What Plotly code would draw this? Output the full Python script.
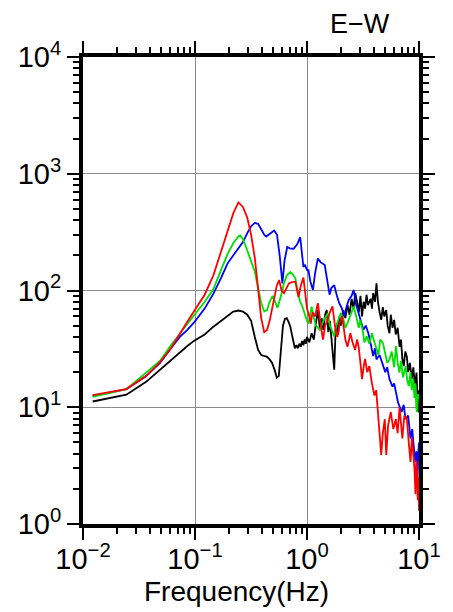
import plotly.graph_objects as go

# ---- data (frequency in Hz, amplitude) ----
f_black = [0.0122, 0.0244, 0.0366, 0.0488, 0.061, 0.0732, 0.0854, 0.0977, 0.122, 0.146,
           0.171, 0.195, 0.22, 0.244, 0.268, 0.293, 0.317, 0.342, 0.366, 0.39,
           0.415, 0.44, 0.464, 0.488, 0.513, 0.537, 0.56, 0.586, 0.61, 0.635,
           0.66, 0.684, 0.71, 0.733, 0.757, 0.78, 0.806, 0.83, 0.854, 0.88,
           0.903, 0.928, 0.952, 0.977,
           1.0, 1.05, 1.1, 1.15, 1.2, 1.25, 1.3, 1.35, 1.4, 1.45, 1.5, 1.55, 1.6, 1.65,
           1.7, 1.75, 1.8, 1.85, 1.9, 1.95, 2.0, 2.1, 2.2, 2.3, 2.4, 2.5, 2.6, 2.7,
           2.8, 2.9, 3.0, 3.1, 3.2, 3.3, 3.4, 3.5, 3.7, 3.8, 3.9, 4.05, 4.17, 4.3,
           4.45, 4.6, 4.75, 4.9, 5.1, 5.25, 5.45, 5.6, 5.8, 6.0, 6.2, 6.45, 6.7, 6.9,
           7.1, 7.3, 7.55, 7.8, 8.0, 8.3, 8.6, 8.9, 9.2, 9.5, 9.7, 9.85, 10.0]
a_black = [11.2, 12.8, 16.5, 21, 25.7, 30, 33.5, 37, 42, 49,
           55, 61, 66, 67.4, 66, 62, 55, 40, 31, 28,
           27.5, 27, 25.7, 24, 21, 18, 18.5, 30, 50, 57,
           58, 54, 49, 42, 36, 32, 34, 32, 35, 33,
           37, 34, 38, 35,
           40, 36, 43, 38, 52, 68, 48, 58, 46, 62, 68, 44, 55, 40,
           30, 21, 45, 52, 42, 60, 50, 68, 58, 75, 62, 85, 70, 95,
           80, 65, 90, 60, 80, 70, 92, 75, 85, 70, 95, 80, 115, 80,
           65, 56, 72, 60, 68, 50, 43, 62, 48, 56, 42, 48, 33, 38,
           26, 22.5, 30, 27, 20, 24, 17.4, 22, 15, 19.8, 12, 14, 9]

f_blue = [0.0122, 0.0244, 0.0366, 0.0488, 0.061, 0.0732, 0.0854, 0.0977, 0.122, 0.146,
          0.171, 0.195, 0.22, 0.244, 0.268, 0.293, 0.317, 0.341, 0.366, 0.39,
          0.415, 0.432, 0.464, 0.509, 0.54, 0.57, 0.603, 0.63, 0.666, 0.7,
          0.76, 0.82, 0.869, 0.9, 0.929, 0.96,
          1.0, 1.03, 1.07, 1.13, 1.18, 1.25, 1.32, 1.44, 1.5, 1.59, 1.65, 1.75, 1.85,
          1.94, 2.05, 2.14, 2.25, 2.36, 2.5, 2.61, 2.75, 2.89, 3.0, 3.19, 3.35, 3.53,
          3.7, 3.9, 4.05, 4.17, 4.45, 4.76, 5.0, 5.2, 5.45, 5.8, 6.0, 6.23, 6.5, 7.0,
          7.3, 7.6, 8.0, 8.4, 8.7, 9.0, 9.3, 9.5, 9.7, 9.85, 10.0]
a_blue = [12.5, 14.3, 18.5, 24, 32, 40, 46, 53, 70, 94,
          128, 170, 200, 228, 260, 310, 355, 379, 372, 335,
          300, 290, 305, 327, 300, 200, 115, 180, 236, 230,
          228, 250, 287, 220, 159, 165,
          150, 149, 120, 101, 140, 188, 175, 165, 130, 92, 105, 111, 90,
          77.8, 70, 60, 72, 83, 90, 101, 75, 64, 55, 46, 50, 43,
          35, 27.4, 32, 25.7, 28, 22.5, 20, 22, 17.4, 15, 16, 13.4, 11, 9.1,
          10.5, 7.9, 8.5, 5.4, 6.5, 4.5, 3.4, 4.2, 2.3, 4, 5]

f_green = [0.0122, 0.0244, 0.0366, 0.0488, 0.061, 0.0732, 0.0854, 0.0977, 0.122, 0.146,
           0.171, 0.195, 0.22, 0.244, 0.253, 0.268, 0.293, 0.317, 0.342, 0.366,
           0.39, 0.415, 0.44, 0.464, 0.493, 0.52, 0.546, 0.586, 0.623, 0.66,
           0.711, 0.757, 0.787, 0.83, 0.87, 0.9, 0.93, 0.962,
           1.0, 1.03, 1.07, 1.1, 1.15, 1.2, 1.3, 1.4, 1.53, 1.6, 1.68, 1.75, 1.85,
           2.0, 2.1, 2.2, 2.3, 2.45, 2.61, 2.75, 2.9, 2.99, 3.15, 3.25, 3.41, 3.6,
           3.8, 4.0, 4.17, 4.35, 4.5, 4.76, 4.95, 5.2, 5.45, 5.7, 6.0, 6.23, 6.45,
           6.7, 6.9, 7.2, 7.6, 7.85, 8.1, 8.4, 8.6, 8.9, 9.1, 9.3, 9.45, 9.6, 9.8, 10.0]
a_green = [12.3, 14.3, 19.8, 25, 34, 43, 52, 61, 80, 103,
           150, 205, 255, 290, 296, 275, 220, 180, 145, 105,
           78, 66, 68, 80, 90, 80, 71, 90, 115, 135,
           144, 135, 127, 95, 80, 75, 68, 60,
           55, 52, 65, 72.8, 58, 50, 46, 55, 64, 50, 45, 40.5, 52,
           64, 58, 48, 52.6, 62, 72.8, 60, 48, 56, 45, 36, 40.5, 35,
           43, 36, 31.3, 28, 38, 35.6, 30, 24, 25.7, 30, 22, 33.4, 24,
           19.8, 25, 18, 22.5, 17, 15.2, 20, 14, 17.4, 12, 16, 10, 9.1, 13, 11.7]

f_red = [0.0122, 0.0244, 0.0366, 0.0488, 0.061, 0.0732, 0.0854, 0.0977, 0.122, 0.146,
         0.171, 0.195, 0.22, 0.244, 0.268, 0.293, 0.317, 0.342, 0.366, 0.39,
         0.415, 0.44, 0.464, 0.493, 0.537, 0.564, 0.593, 0.623, 0.655, 0.689,
         0.733, 0.787, 0.84, 0.88, 0.929, 0.965,
         1.0, 1.05, 1.08, 1.12, 1.18, 1.25, 1.3, 1.35, 1.39, 1.45, 1.53, 1.6, 1.69,
         1.75, 1.8, 1.87, 1.95, 2.06, 2.15, 2.2, 2.3, 2.44, 2.55, 2.69, 2.8, 2.89,
         3.0, 3.1, 3.2, 3.3, 3.45, 3.6, 3.8, 4.0, 4.15, 4.3, 4.45, 4.6, 4.75, 4.95,
         5.1, 5.3, 5.6, 5.9, 6.2, 6.45, 6.7, 6.9, 7.1, 7.4, 7.8, 8.1, 8.4, 8.65,
         8.9, 9.1, 9.3, 9.45, 9.6, 9.75, 9.9, 10.0]
a_red = [12.7, 14.3, 18.5, 24.4, 32, 43, 54, 66, 92, 135,
         215, 320, 460, 568, 520, 420, 300, 190, 95, 58,
         44, 46, 55, 73, 110, 123, 100, 95, 105, 115,
         118, 119, 88, 110, 129, 95,
         70, 60, 52, 65, 60, 78, 55, 45, 38, 50, 56, 65, 73,
         55, 45, 40, 52, 60, 45, 38, 33, 43, 36, 31, 38, 33,
         24, 17.4, 22, 26, 20, 22.5, 16, 12.6, 14, 9.1, 6, 3.9, 6, 7.9,
         3.9, 7, 9.1, 6.5, 7.9, 6, 10, 7, 5.4, 8.5, 7.9, 5, 3.4, 5.5,
         4.2, 3, 1.8, 3.5, 2.8, 1.6, 2.5, 1.3]

x_exps = [-2, -1, 0, 1]
y_exps = [0, 1, 2, 3, 4]
x_title = "Frequency(Hz)"
panel_title = "E\u2212W"

series = [
    ("black", f_black, a_black, "black"),
    ("blue", f_blue, a_blue, "#0000ff"),
    ("green", f_green, a_green, "#00e000"),
    ("red", f_red, a_red, "#ff0000"),
]

FONT = "Liberation Sans, Arial, Helvetica, sans-serif"


def pow_label(e):
    s = str(e).replace("-", "\u2212")
    return "10<sup>" + s + "</sup>"


def minor_vals(exps):
    vals = []
    for e in exps[:-1]:
        for m in range(2, 10):
            vals.append(m * 10.0 ** e)
    return vals


fig = go.Figure()
for name, fx, ay, col in series:
    fig.add_trace(go.Scatter(x=fx, y=ay, mode="lines", name=name,
                             line=dict(color=col, width=1.8), showlegend=False))

axis_common = dict(
    type="log", showline=True, linecolor="black", linewidth=4, mirror="ticks",
    ticks="outside", ticklen=12, tickwidth=2, tickcolor="black",
    showgrid=True, gridcolor="#8a8a8a", gridwidth=1, zeroline=False,
    tickmode="array",
    tickfont=dict(family=FONT, size=29, color="black"),
)

fig.update_xaxes(range=[-2, 1], tickvals=[10.0 ** e for e in x_exps],
                 ticktext=[pow_label(e) for e in x_exps], ticklabelstandoff=-6,
                 minor=dict(tickmode="array", tickvals=minor_vals(x_exps), ticks="outside",
                            ticklen=6, tickwidth=2, tickcolor="black", showgrid=False),
                 **axis_common)
fig.update_yaxes(range=[0, 4], tickvals=[10.0 ** e for e in y_exps],
                 ticktext=[pow_label(e) for e in y_exps],
                 minor=dict(tickmode="array", tickvals=minor_vals(y_exps), ticks="outside",
                            ticklen=6, tickwidth=2, tickcolor="black", showgrid=False),
                 **axis_common)

fig.add_annotation(text=x_title, xref="paper", yref="paper", x=(239 - 83) / 342,
                   y=(524 - 591) / 467, showarrow=False, xanchor="center", yanchor="middle",
                   font=dict(family=FONT, size=28, color="black"))
fig.add_annotation(text=panel_title, xref="paper", yref="paper", x=(365 - 83) / 342,
                   y=(524 - 24) / 467, showarrow=False, xanchor="center", yanchor="middle",
                   font=dict(family=FONT, size=27, color="black"))

fig.update_layout(width=453, height=612, margin=dict(l=83, r=28, t=57, b=88),
                  paper_bgcolor="white", plot_bgcolor="white")

fig.write_html("out.html")
